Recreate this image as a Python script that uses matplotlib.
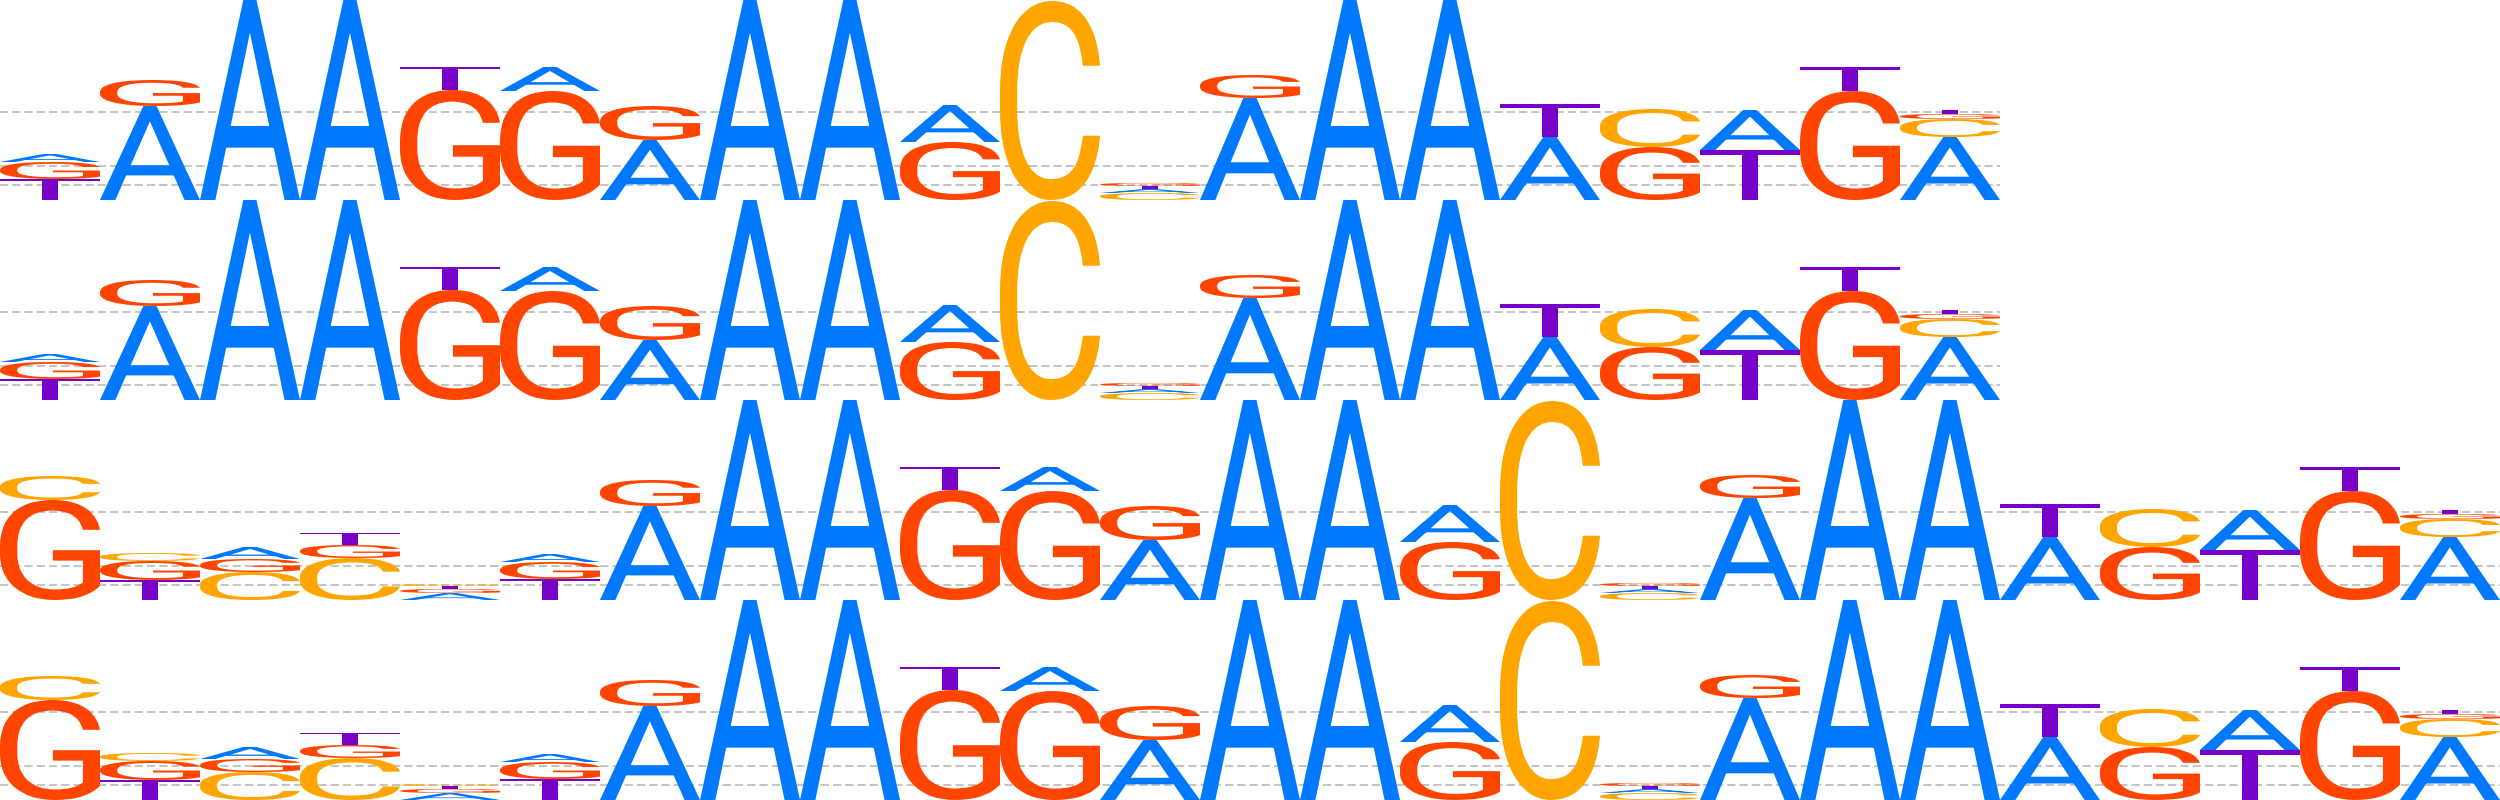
import matplotlib
matplotlib.use("Agg")
import matplotlib.pyplot as plt
from matplotlib.font_manager import FontProperties
from matplotlib.patches import PathPatch
from matplotlib.textpath import TextPath
from matplotlib.transforms import Affine2D

# letter heights in bits, one value per position
motif1_A = [0.08, 0.94, 2.00, 2.00, 0.00, 0.24, 0.60, 2.00, 2.00, 0.37,
            0.00, 0.04, 1.02, 2.00, 2.00, 0.63, 0.00, 0.40, 0.00, 0.63]
motif1_C = [0.00, 0.00, 0.00, 0.00, 0.00, 0.00, 0.00, 0.00, 0.00, 0.00,
            1.99, 0.07, 0.00, 0.00, 0.00, 0.00, 0.38, 0.00, 0.00, 0.18]
motif1_G = [0.17, 0.26, 0.00, 0.00, 1.10, 1.09, 0.34, 0.00, 0.00, 0.58,
            0.00, 0.03, 0.23, 0.00, 0.00, 0.00, 0.53, 0.00, 1.09, 0.05]
motif1_T = [0.21, 0.00, 0.00, 0.00, 0.23, 0.00, 0.00, 0.00, 0.00, 0.00,
            0.00, 0.03, 0.00, 0.00, 0.00, 0.33, 0.00, 0.50, 0.24, 0.04]

motif2_A = [0.00, 0.00, 0.12, 0.00, 0.07,
            0.08, 0.94, 2.00, 2.00, 0.00, 0.24, 0.60, 2.00, 2.00, 0.37,
            0.00, 0.04, 1.02, 2.00, 2.00, 0.63, 0.00, 0.40, 0.00, 0.63]
motif2_C = [0.24, 0.08, 0.28, 0.42, 0.02,
            0.00, 0.00, 0.00, 0.00, 0.00, 0.00, 0.00, 0.00, 0.00, 0.00,
            1.99, 0.07, 0.00, 0.00, 0.00, 0.00, 0.38, 0.00, 0.00, 0.18]
motif2_G = [1.00, 0.19, 0.13, 0.13, 0.04,
            0.17, 0.26, 0.00, 0.00, 1.10, 1.09, 0.34, 0.00, 0.00, 0.58,
            0.00, 0.03, 0.23, 0.00, 0.00, 0.00, 0.53, 0.00, 1.09, 0.05]
motif2_T = [0.00, 0.20, 0.00, 0.12, 0.03,
            0.21, 0.00, 0.00, 0.00, 0.23, 0.00, 0.00, 0.00, 0.00, 0.00,
            0.00, 0.03, 0.00, 0.00, 0.00, 0.33, 0.00, 0.50, 0.24, 0.04]

guide_levels = [0.147, 0.34, 0.883]

colors = {"A": "#0079ff", "C": "#ffa500", "G": "#ff4500", "T": "#7800c8"}
fp = FontProperties(family="Roboto", weight="normal")

motif1 = {"A": motif1_A, "C": motif1_C, "G": motif1_G, "T": motif1_T}
motif2 = {"A": motif2_A, "C": motif2_C, "G": motif2_G, "T": motif2_T}
rows = [motif1, motif1, motif2, motif2]
row_height = 2.0

glyphs = {}
for base in "ACGT":
    tp = TextPath((0, 0), base, size=1, prop=fp)
    glyphs[base] = (tp, tp.get_extents())


def draw_letter(ax, base, x, y, w, h):
    tp, ext = glyphs[base]
    tr = (Affine2D().translate(-ext.x0, -ext.y0)
          .scale(w / ext.width, h / ext.height)
          .translate(x, y))
    ax.add_patch(PathPatch(tr.transform_path(tp), facecolor=colors[base],
                           edgecolor="none", zorder=3))


fig = plt.figure(figsize=(25, 8), dpi=100)
ax = fig.add_axes([0, 0, 1, 1])
n_rows = len(rows)
ax.set_xlim(0, 25)
ax.set_ylim(0, n_rows * row_height)
ax.axis("off")

for r, motif in enumerate(rows):
    base_y = (n_rows - 1 - r) * row_height
    width = len(motif["A"])
    for lvl in guide_levels:
        ln, = ax.plot([0, width], [base_y + lvl] * 2, color="#c4c4c4",
                      linewidth=1.4, zorder=1)
        ln.set_dashes([4.2, 2.1])
    for i in range(width):
        stack = sorted(((motif[b][i], b) for b in "ACGT"), reverse=True)
        y = base_y
        for h, b in stack:
            if h <= 0:
                continue
            draw_letter(ax, b, i, y, 1.0, h)
            y += h

fig.savefig("out.png", dpi=100)
